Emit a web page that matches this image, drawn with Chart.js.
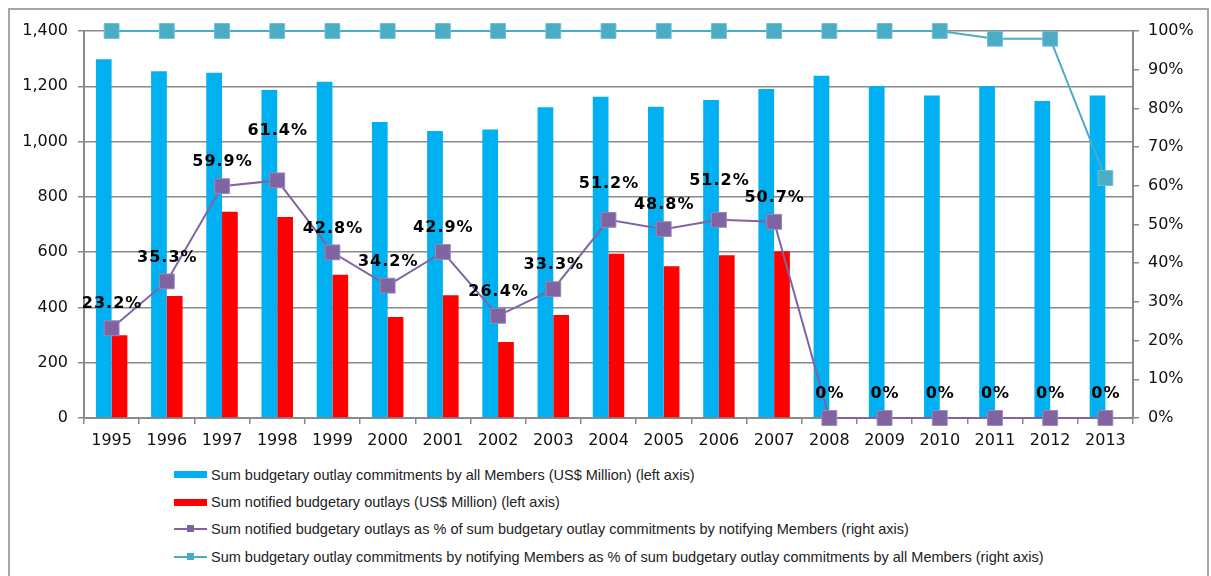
<!DOCTYPE html>
<html>
<head>
<meta charset="utf-8">
<script src="https://cdn.jsdelivr.net/npm/chart.js@4/dist/chart.umd.min.js"></script>
<style>
  html, body { margin: 0; padding: 0; background: #fff; overflow: hidden; }
  #frame {
    position: absolute; left: 8px; top: 8px; width: 1201px; height: 600px;
    border: 2px solid #a6a6a6; box-sizing: border-box;
  }
  #wrap { position: absolute; left: 0; top: 0; width: 1211px; height: 460px; }
  #legend {
    position: absolute; left: 174px; top: 461px;
    font-family: "Liberation Sans", Arial, sans-serif; font-size: 14.5px; color: #222;
  }
  .item { height: 27.4px; display: flex; align-items: center; }
  .sw { width: 33px; height: 7px; margin-right: 4px; position: relative; flex: none; }
  .ln { width: 33px; height: 2px; margin-right: 4px; position: relative; flex: none; }
  .ln i { position: absolute; left: 13px; top: -3px; width: 7px; height: 7px; }
</style>
</head>
<body>
<div id="frame"></div>
<div id="wrap"><canvas id="chart" width="1211" height="460"></canvas></div>
<div id="legend"></div>
<script>
const years = ['1995', '1996', '1997', '1998', '1999', '2000', '2001', '2002', '2003', '2004',
  '2005', '2006', '2007', '2008', '2009', '2010', '2011', '2012', '2013'];
const commitmentsAll = [1298, 1254, 1249, 1187, 1216, 1071, 1038, 1044, 1124, 1162,
  1126, 1150, 1190, 1238, 1201, 1167, 1201, 1147, 1167];
const notifiedOutlays = [299, 441, 746, 727, 518, 365, 444, 275, 373, 594,
  549, 589, 603, null, null, null, null, null, null];
const notifiedPct = [23.2, 35.3, 59.9, 61.4, 42.8, 34.2, 42.9, 26.4, 33.3, 51.2,
  48.8, 51.2, 50.7, 0, 0, 0, 0, 0, 0];
const notifyingSharePct = [100, 100, 100, 100, 100, 100, 100, 100, 100, 100,
  100, 100, 100, 100, 100, 100, 98, 98, 62];

const labelNames = [
  'Sum budgetary outlay commitments by all Members (US$ Million) (left axis)',
  'Sum notified budgetary outlays (US$ Million) (left axis)',
  'Sum notified budgetary outlays as % of sum budgetary outlay commitments by notifying Members (right axis)',
  'Sum budgetary outlay commitments by notifying Members as % of sum budgetary outlay commitments by all Members (right axis)',
];

const BLUE = '#00b0f0', RED = '#ff0000', PURPLE = '#8064a2', TEAL = '#4bacc6';
const AXIS = '#8a8a8a';
const TICK_FONT = { family: '"DejaVu Sans", Verdana, sans-serif', size: 16 };

// extra lift (px) of a few % labels that sit higher in the original
const labelLift = { 3: 26, 9: 12, 11: 15 };

const pctLabels = {
  id: 'pctLabels',
  afterDatasetsDraw(chart) {
    const meta = chart.getDatasetMeta(2);
    const ctx = chart.ctx;
    ctx.save();
    ctx.font = 'bold 16px "DejaVu Sans", Verdana, sans-serif';
    ctx.letterSpacing = '1px';
    ctx.fillStyle = '#000';
    ctx.textAlign = 'center';
    ctx.textBaseline = 'middle';
    meta.data.forEach((pt, i) => {
      const v = notifiedPct[i];
      const lift = 24 + (labelLift[i] || 0);
      ctx.fillText(v + '%', pt.x + 0.5, pt.y - lift);
    });
    ctx.restore();
  }
};

const ctx = document.getElementById('chart').getContext('2d');
const chart = new Chart(ctx, {
  type: 'bar',
  data: {
    labels: years,
    datasets: [
      {
        label: labelNames[0], data: commitmentsAll, yAxisID: 'y', order: 2,
        backgroundColor: BLUE, barPercentage: 1, categoryPercentage: 0.57,
      },
      {
        label: labelNames[1], data: notifiedOutlays, yAxisID: 'y', order: 3,
        backgroundColor: RED, barPercentage: 1, categoryPercentage: 0.57,
      },
      {
        type: 'line', label: labelNames[2], data: notifiedPct, yAxisID: 'y1', order: 0,
        borderColor: PURPLE, backgroundColor: PURPLE, borderWidth: 2,
        pointStyle: 'rect', pointRadius: 10.5, pointBorderWidth: 1, pointBorderColor: '#9a86b8',
        tension: 0, clip: false,
      },
      {
        type: 'line', label: labelNames[3], data: notifyingSharePct, yAxisID: 'y1', order: 1,
        borderColor: TEAL, backgroundColor: TEAL, borderWidth: 2,
        pointStyle: 'rect', pointRadius: 10.5, pointBorderWidth: 1, pointBorderColor: '#6cc0d6',
        tension: 0, clip: false,
      },
    ],
  },
  options: {
    responsive: false,
    animation: false,
    layout: { padding: { top: 31, left: 10, right: 10, bottom: 0 } },
    plugins: {
      legend: { display: false },
      tooltip: { enabled: false },
    },
    scales: {
      x: {
        grid: { offset: true, drawOnChartArea: false, drawTicks: true, tickLength: 6, color: AXIS, lineWidth: 1.5 },
        border: { color: AXIS, width: 2 },
        ticks: { color: '#111', font: TICK_FONT, padding: 7, maxRotation: 0, autoSkip: false },
        afterFit: s => { s.height = 42; },
      },
      y: {
        position: 'left',
        min: 0, max: 1400,
        grid: { color: AXIS, lineWidth: 1.5, tickLength: 6 },
        border: { color: AXIS, width: 2 },
        ticks: { stepSize: 200, color: '#111', font: TICK_FONT, padding: 10 },
        afterFit: s => { s.width = 74; },
      },
      y1: {
        position: 'right',
        min: 0, max: 100,
        grid: { drawOnChartArea: false, color: AXIS, lineWidth: 1.5, tickLength: 6 },
        border: { color: AXIS, width: 2 },
        ticks: { stepSize: 10, color: '#111', font: TICK_FONT, padding: 9, callback: v => v + '%' },
        afterFit: s => { s.width = 68; },
      },
    },
  },
  plugins: [pctLabels],
});

// html legend built from the datasets
const legendEl = document.getElementById('legend');
chart.data.datasets.forEach(ds => {
  const row = document.createElement('div');
  row.className = 'item';
  const sw = document.createElement('span');
  if (ds.type === 'line') {
    sw.className = 'ln';
    sw.style.background = ds.borderColor;
    const mk = document.createElement('i');
    mk.style.background = ds.borderColor;
    sw.appendChild(mk);
  } else {
    sw.className = 'sw';
    sw.style.background = ds.backgroundColor;
  }
  const txt = document.createElement('span');
  txt.textContent = ds.label;
  row.appendChild(sw);
  row.appendChild(txt);
  legendEl.appendChild(row);
});
</script>
</body>
</html>
